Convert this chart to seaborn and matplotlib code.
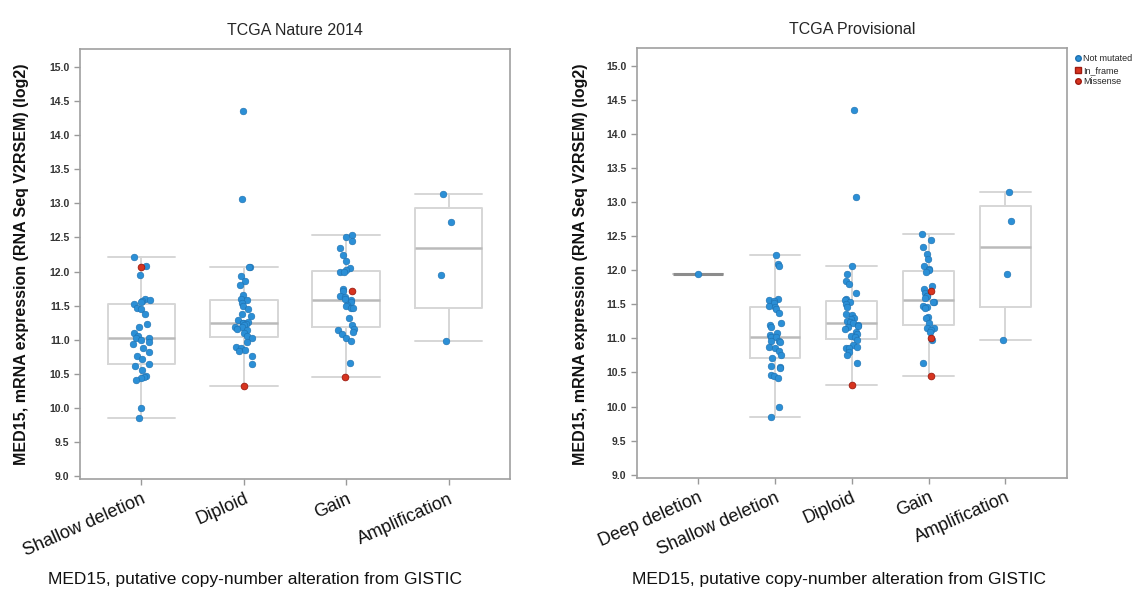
import numpy as np
import pandas as pd
import seaborn as sns
import matplotlib as mpl
from matplotlib import pyplot as plt
from matplotlib.lines import Line2D

sns.set_style('white')
plt.rcParams['font.family'] = ['Liberation Sans', 'DejaVu Sans']

# TCGA Nature 2014 -- MED15 expression per copy-number group
nature_groups = ["Shallow deletion", "Diploid", "Gain", "Amplification"]
nature_not_mut = {
    "Shallow deletion": [12.21, 12.08, 11.95, 11.59, 11.58, 11.56, 11.55, 11.53, 11.47, 11.45,
                         11.38, 11.23, 11.18, 11.09, 11.05, 11.03, 11.03, 10.99, 10.96, 10.94,
                         10.87, 10.82, 10.76, 10.71, 10.64, 10.61, 10.56, 10.46, 10.45, 10.43,
                         10.41, 9.99, 9.85],
    "Diploid": [14.36, 13.07, 12.06, 12.06, 11.94, 11.86, 11.80, 11.65, 11.59, 11.58,
                11.54, 11.50, 11.45, 11.37, 11.34, 11.29, 11.26, 11.24, 11.24, 11.23,
                11.21, 11.19, 11.18, 11.16, 11.14, 11.10, 11.05, 11.03, 10.97, 10.89,
                10.87, 10.85, 10.83, 10.76, 10.64],
    "Gain": [12.54, 12.51, 12.45, 12.34, 12.24, 12.16, 12.05, 12.02, 11.99, 11.99,
             11.75, 11.71, 11.64, 11.62, 11.59, 11.58, 11.55, 11.51, 11.49, 11.47,
             11.46, 11.31, 11.21, 11.15, 11.14, 11.11, 11.08, 11.02, 10.98, 10.65],
    "Amplification": [13.14, 12.73, 11.95, 10.98],
}
nature_missense = {
    "Shallow deletion": [12.07],
    "Diploid": [10.32],
    "Gain": [11.71, 10.45],
    "Amplification": [],
}

# TCGA Provisional
prov_groups = ["Deep deletion", "Shallow deletion", "Diploid", "Gain", "Amplification"]
prov_not_mut = {
    "Deep deletion": [11.95],
    "Shallow deletion": [12.22, 12.10, 12.07, 11.58, 11.57, 11.55, 11.52, 11.48, 11.46, 11.43,
                         11.38, 11.22, 11.20, 11.17, 11.08, 11.05, 11.02, 11.02, 10.96, 10.96,
                         10.94, 10.87, 10.86, 10.81, 10.76, 10.71, 10.60, 10.58, 10.56, 10.46,
                         10.45, 10.42, 9.99, 9.85],
    "Diploid": [14.36, 13.07, 12.06, 11.95, 11.85, 11.80, 11.66, 11.58, 11.56, 11.54,
                11.51, 11.46, 11.36, 11.34, 11.30, 11.29, 11.26, 11.24, 11.22, 11.20,
                11.18, 11.17, 11.14, 11.10, 11.07, 11.04, 11.02, 10.97, 10.90, 10.88,
                10.86, 10.86, 10.80, 10.75, 10.64],
    "Gain": [12.53, 12.45, 12.34, 12.24, 12.17, 12.06, 12.02, 12.00, 11.97, 11.77,
             11.73, 11.66, 11.62, 11.63, 11.59, 11.53, 11.53, 11.48, 11.46, 11.44,
             11.31, 11.30, 11.22, 11.16, 11.16, 11.12, 11.09, 10.97, 10.64],
    "Amplification": [13.15, 12.73, 11.95, 10.98],
}
prov_missense = {
    "Deep deletion": [],
    "Shallow deletion": [],
    "Diploid": [10.32],
    "Gain": [11.70, 11.01, 10.45],
    "Amplification": [],
}

blue = "#2b8fd6"
red = "#d7341f"
box_col = "#d6d6d6"
med_col = "#bababa"


def hinge_stats(vals, label):
    # Tukey hinges, whiskers at furthest point within 1.5 IQR
    v = np.sort(np.asarray(vals))
    n = len(v)
    med = np.median(v)
    half = (n + 1) // 2
    q1 = np.median(v[:half])
    q3 = np.median(v[n - half:])
    iqr = q3 - q1
    lo = v[v >= q1 - 1.5 * iqr].min()
    hi = v[v <= q3 + 1.5 * iqr].max()
    return dict(med=med, q1=q1, q3=q3, whislo=lo, whishi=hi, fliers=[], label=label)


def panel(ax, groups, not_mut, missense, xlim, title):
    rows = []
    for g in groups:
        for v in not_mut[g]:
            rows.append((g, v, "Not mutated"))
        for v in missense[g]:
            rows.append((g, v, "Missense"))
    df = pd.DataFrame(rows, columns=["group", "value", "mutation"])

    stats = [hinge_stats(df.loc[df.group == g, "value"], g) for g in groups]
    arts = ax.bxp(stats, positions=range(len(groups)), widths=0.66, capwidths=0.66,
                  showfliers=False, manage_ticks=False, zorder=1,
                  boxprops=dict(color=box_col, lw=1.4),
                  whiskerprops=dict(color=box_col, lw=1.4),
                  capprops=dict(color=box_col, lw=1.4),
                  medianprops=dict(color=med_col, lw=1.8))
    # a single-sample group collapses to one line; it reads darker in the original
    for st, m in zip(stats, arts["medians"]):
        if st["q1"] == st["q3"]:
            m.set_color("#8c8c8c")
            m.set_linewidth(2.2)

    sns.stripplot(data=df[df.mutation == "Not mutated"], x="group", y="value", order=groups,
                  color=blue, size=4.8, jitter=0.085, linewidth=0.4, edgecolor="#1d6fae",
                  ax=ax, zorder=3)
    sns.stripplot(data=df[df.mutation == "Missense"], x="group", y="value", order=groups,
                  color=red, size=4.8, jitter=0.085, linewidth=0.6, edgecolor="#9e1a10",
                  ax=ax, zorder=4)

    ax.set_xlim(*xlim)
    ax.set_ylim(8.95, 15.27)
    ax.set_yticks(np.arange(9.0, 15.01, 0.5))
    ax.set_yticklabels(["%.1f" % t for t in np.arange(9.0, 15.01, 0.5)],
                       fontsize=7.5, fontweight="bold", color="#333333")
    ax.set_xticks(range(len(groups)))
    ax.set_xticklabels(groups, rotation=24, ha="right", rotation_mode="anchor",
                       fontsize=13, color="#111111")
    ax.tick_params(axis="both", which="both", direction="out", length=4, width=1,
                   color="#999999", left=True, bottom=True)
    ax.tick_params(axis="x", pad=4)
    ax.set_xlabel("")
    ax.set_ylabel("")
    for s in ax.spines.values():
        s.set_color("#a0a0a0")
        s.set_linewidth(1.2)
    ax.set_title(title, fontsize=11.5, pad=10)


fig = plt.figure(figsize=(11.41, 5.96), dpi=100)
ax1 = fig.add_axes([0.0701, 0.196, 0.377, 0.722])
ax2 = fig.add_axes([0.558, 0.198, 0.377, 0.722])

np.random.seed(7)
panel(ax1, nature_groups, nature_not_mut, nature_missense, (-0.6, 3.6), "TCGA Nature 2014")
panel(ax2, prov_groups, prov_not_mut, prov_missense, (-0.8, 4.8), "TCGA Provisional")

ylab = "MED15, mRNA expression (RNA Seq V2RSEM) (log2)"
xlab = "MED15, putative copy-number alteration from GISTIC"
fig.text(22 / 1141, 0.557, ylab, rotation=90, ha="center", va="center",
         fontsize=11.5, fontweight="bold", color="#111111")
fig.text(580 / 1141, 0.557, ylab, rotation=90, ha="center", va="center",
         fontsize=11.5, fontweight="bold", color="#111111")
fig.text(255 / 1141, 0.027, xlab, ha="center", va="center", fontsize=12.5, color="#111111")
fig.text(839 / 1141, 0.027, xlab, ha="center", va="center", fontsize=12.5, color="#111111")

handles = [
    Line2D([], [], marker="o", ls="", color=blue, markeredgecolor="#1d6fae", markersize=4, label="Not mutated"),
    Line2D([], [], marker="s", ls="", color=red, markeredgecolor="#9e1a10", markersize=4, label="In_frame"),
    Line2D([], [], marker="o", ls="", color=red, markeredgecolor="#9e1a10", markersize=4, label="Missense"),
]
ax2.legend(handles=handles, loc="upper left", bbox_to_anchor=(1.0, 1.0), frameon=False,
           fontsize=6.5, handletextpad=0.1, labelspacing=0.3, borderaxespad=0.3,
           handlelength=1.0)

fig.savefig("out.png", dpi=100)
